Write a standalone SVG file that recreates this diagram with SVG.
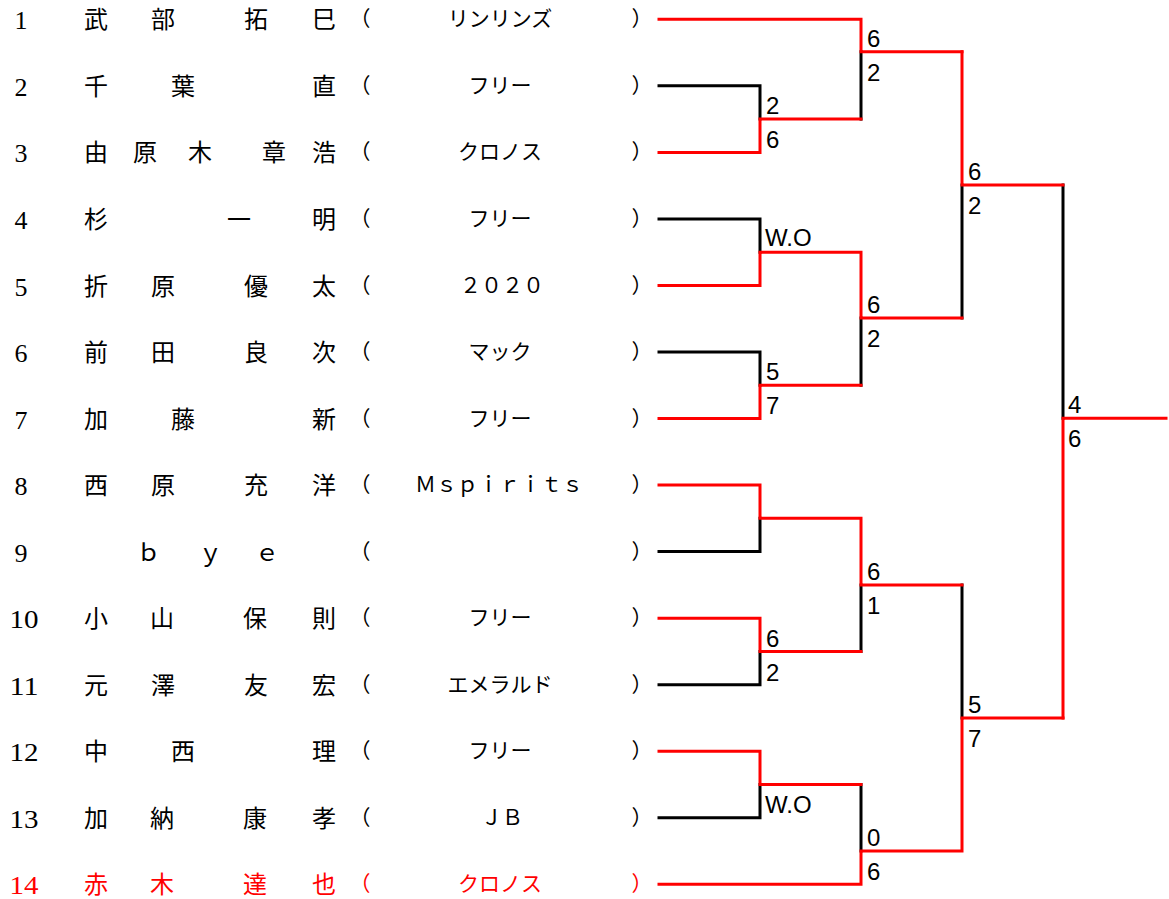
<svg xmlns="http://www.w3.org/2000/svg" width="1169" height="899" viewBox="0 0 1169 899">
<style>
.num{font-family:"Liberation Serif","Noto Serif CJK JP",serif;font-size:26px;fill:#000;text-anchor:middle}
.nm{font-family:"Noto Sans CJK JP",sans-serif;font-size:24px;fill:#000;text-anchor:middle}
.tm{font-family:"Noto Sans CJK JP",sans-serif;font-size:21px;fill:#000;text-anchor:middle}
.red .num,.red .nm,.red .tm{fill:#FF0000}
.sc{font-family:"Liberation Sans",Arial,sans-serif;font-size:24px;fill:#000}
.bk{fill:none;stroke:#000;stroke-width:3;stroke-linecap:square}
.rd{fill:none;stroke:#FF0000;stroke-width:3;stroke-linecap:square}
</style>
<rect width="1169" height="899" fill="#fff"/>
<g id="p1"><text class="num" x="21" y="29.3">1</text><text class="nm" x="96 163 256 324" y="28.3">武部拓巳</text><text class="tm" x="360" y="26.3">（</text><text class="tm" x="500" y="26.3">リンリンズ</text><text class="tm" x="642" y="26.3">）</text></g>
<g id="p2"><text class="num" x="21" y="95.8">2</text><text class="nm" x="96 183 324" y="94.8">千葉直</text><text class="tm" x="360" y="92.8">（</text><text class="tm" x="500" y="92.8">フリー</text><text class="tm" x="642" y="92.8">）</text></g>
<g id="p3"><text class="num" x="21" y="162.4">3</text><text class="nm" x="96 145 200 274 324" y="161.4">由原木章浩</text><text class="tm" x="360" y="159.4">（</text><text class="tm" x="500" y="159.4">クロノス</text><text class="tm" x="642" y="159.4">）</text></g>
<g id="p4"><text class="num" x="21" y="228.9">4</text><text class="nm" x="96 239 324" y="227.9">杉一明</text><text class="tm" x="360" y="225.9">（</text><text class="tm" x="500" y="225.9">フリー</text><text class="tm" x="642" y="225.9">）</text></g>
<g id="p5"><text class="num" x="21" y="295.5">5</text><text class="nm" x="96 163 256 324" y="294.5">折原優太</text><text class="tm" x="360" y="292.5">（</text><text class="tm" x="502" y="292.5">２０２０</text><text class="tm" x="642" y="292.5">）</text></g>
<g id="p6"><text class="num" x="21" y="362">6</text><text class="nm" x="96 163 256 324" y="361">前田良次</text><text class="tm" x="360" y="359">（</text><text class="tm" x="500" y="359">マック</text><text class="tm" x="642" y="359">）</text></g>
<g id="p7"><text class="num" x="21" y="428.5">7</text><text class="nm" x="96 183 324" y="427.5">加藤新</text><text class="tm" x="360" y="425.5">（</text><text class="tm" x="500" y="425.5">フリー</text><text class="tm" x="642" y="425.5">）</text></g>
<g id="p8"><text class="num" x="21" y="495.1">8</text><text class="nm" x="96 163 256 324" y="494.1">西原充洋</text><text class="tm" x="360" y="492.1">（</text><text class="tm" x="499" y="492.1">Ｍｓｐｉｒｉｔｓ</text><text class="tm" x="642" y="492.1">）</text></g>
<g id="p9"><text class="num" x="21" y="561.6">9</text><text class="nm" x="148.5 210.5 267" y="560.6">ｂｙｅ</text><text class="tm" x="360" y="558.6">（</text><text class="tm" x="642" y="558.6">）</text></g>
<g id="p10"><text class="num" x="24" y="628.2" textLength="29" lengthAdjust="spacingAndGlyphs">10</text><text class="nm" x="96 162 255 324" y="627.2">小山保則</text><text class="tm" x="360" y="625.2">（</text><text class="tm" x="500" y="625.2">フリー</text><text class="tm" x="642" y="625.2">）</text></g>
<g id="p11"><text class="num" x="24" y="694.7" textLength="29" lengthAdjust="spacingAndGlyphs">11</text><text class="nm" x="96 163 256 324" y="693.7">元澤友宏</text><text class="tm" x="360" y="691.7">（</text><text class="tm" x="500" y="691.7">エメラルド</text><text class="tm" x="642" y="691.7">）</text></g>
<g id="p12"><text class="num" x="24" y="761.2" textLength="29" lengthAdjust="spacingAndGlyphs">12</text><text class="nm" x="96 183 324" y="760.2">中西理</text><text class="tm" x="360" y="758.2">（</text><text class="tm" x="500" y="758.2">フリー</text><text class="tm" x="642" y="758.2">）</text></g>
<g id="p13"><text class="num" x="24" y="827.8" textLength="29" lengthAdjust="spacingAndGlyphs">13</text><text class="nm" x="96 162 255 324" y="826.8">加納康孝</text><text class="tm" x="360" y="824.8">（</text><text class="tm" x="502" y="824.8">ＪＢ</text><text class="tm" x="642" y="824.8">）</text></g>
<g id="p14" class="red"><text class="num" x="24" y="894.3" textLength="29" lengthAdjust="spacingAndGlyphs">14</text><text class="nm" x="96 162 255 324" y="893.3">赤木達也</text><text class="tm" x="360" y="891.3">（</text><text class="tm" x="500" y="891.3">クロノス</text><text class="tm" x="642" y="891.3">）</text></g>
<g id="connectors">
<path class="bk" d="M659,85.8H760V119.1"/>
<path class="bk" d="M861,119.1V51.7"/>
<path class="bk" d="M659,218.9H760V252.2"/>
<path class="bk" d="M659,352H760V385.3"/>
<path class="bk" d="M861,385.3V318"/>
<path class="bk" d="M962,318V185"/>
<path class="bk" d="M659,551.6H760V518.3"/>
<path class="bk" d="M659,684.7H760V651.5"/>
<path class="bk" d="M861,651.5V585"/>
<path class="bk" d="M659,817.8H760V784.5"/>
<path class="bk" d="M861,784.5V851"/>
<path class="bk" d="M962,585V718"/>
<path class="bk" d="M1063,185V418.3"/>
<path class="rd" d="M659,152.4H760V119.1H861"/>
<path class="rd" d="M659,19.3H861V51.7H962"/>
<path class="rd" d="M659,285.5H760V252.2H861V318H962"/>
<path class="rd" d="M659,418.5H760V385.3H861"/>
<path class="rd" d="M962,51.7V185H1063"/>
<path class="rd" d="M659,485.1H760V518.3H861V585H962"/>
<path class="rd" d="M659,618.2H760V651.5H861"/>
<path class="rd" d="M659,751.2H760V784.5H861"/>
<path class="rd" d="M659,884.3H861V851H962V718H1063"/>
<path class="rd" d="M1063,718V418.3H1166"/>
</g>
<g id="scores">
<text class="sc" x="766" y="114.3">2</text><text class="sc" x="766" y="147.7">6</text>
<text class="sc" x="867" y="46.7">6</text><text class="sc" x="867" y="80.7">2</text>
<text class="sc" x="765" y="246">W.O</text>
<text class="sc" x="766" y="380.3">5</text><text class="sc" x="766" y="414">7</text>
<text class="sc" x="867" y="313">6</text><text class="sc" x="867" y="347">2</text>
<text class="sc" x="968" y="180">6</text><text class="sc" x="968" y="214">2</text>
<text class="sc" x="766" y="646.5">6</text><text class="sc" x="766" y="680.5">2</text>
<text class="sc" x="867" y="580">6</text><text class="sc" x="867" y="614">1</text>
<text class="sc" x="765" y="812.5">W.O</text>
<text class="sc" x="867" y="846">0</text><text class="sc" x="867" y="880">6</text>
<text class="sc" x="968" y="713">5</text><text class="sc" x="968" y="747">7</text>
<text class="sc" x="1068" y="413.3">4</text><text class="sc" x="1068" y="447.3">6</text>
</g>
</svg>
